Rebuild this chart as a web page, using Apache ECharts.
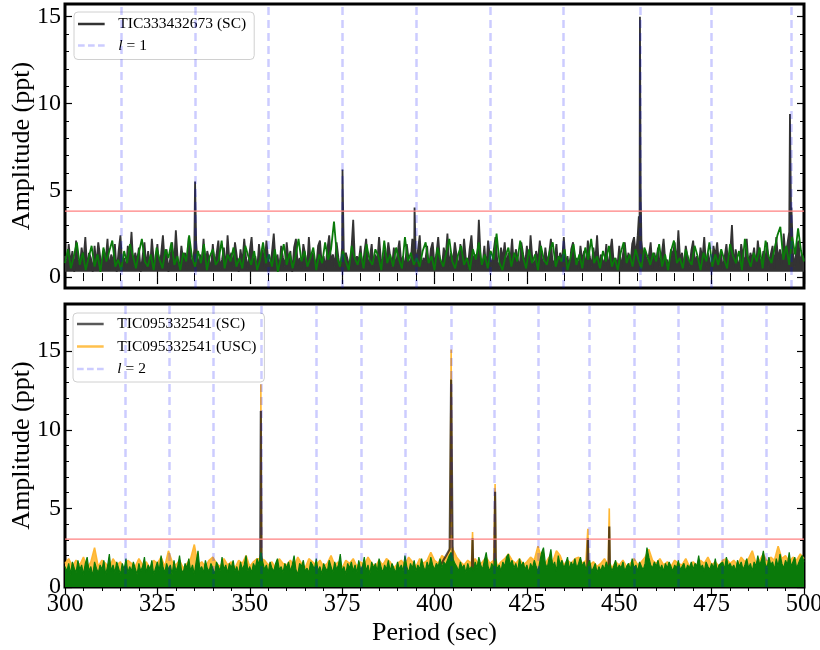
<!DOCTYPE html>
<html><head><meta charset="utf-8">
<script src="https://cdn.jsdelivr.net/npm/echarts@6/dist/echarts.min.js"></script>
<style>html,body{margin:0;padding:0;background:#fff}#c{width:820px;height:650px}</style>
</head><body><div id="c"></div>
<script>
// ---------- DATA ----------
const periodMin = 300, periodMax = 500;
const xTicks = [300, 325, 350, 375, 400, 425, 450, 475, 500];

// Top panel: TIC333432673 (SC), sampled every 0.5 s from 300 s
const topSCStep = 0.5;
const topSCNoise = [
1.2,0.4,1.9,0.8,1.5,0.3,2.1,1.0,0.6,1.7,0.9,2.3,0.5,1.4,1.1,0.3,1.8,0.7,2.0,1.2,
0.5,1.6,0.9,2.2,0.4,1.3,0.8,1.9,0.3,1.5,2.4,0.7,1.1,0.4,1.8,1.0,2.6,0.6,1.4,0.9,
1.7,0.3,1.2,2.0,0.6,1.5,0.4,2.2,1.0,0.7,1.9,0.5,1.3,2.4,0.8,1.6,0.3,1.1,2.0,0.6,
2.7,1.0,0.5,1.8,0.9,1.4,0.4,2.3,1.1,0.7,1.6,2.0,0.5,1.3,0.8,2.2,0.6,1.5,1.0,0.4,
1.9,0.7,1.3,2.1,0.5,1.0,1.7,0.4,2.4,0.9,1.4,0.6,2.0,1.2,0.3,1.6,0.8,2.2,1.1,0.5,
1.5,2.3,0.7,1.2,0.4,1.9,0.9,1.6,0.5,2.1,1.0,0.6,1.4,2.5,0.8,1.3,0.4,1.8,1.1,0.6,
2.0,0.9,1.5,0.3,1.7,2.2,0.7,1.1,0.5,1.9,1.3,0.4,2.3,0.8,1.4,1.0,0.6,1.8,2.1,0.7,
1.2,0.5,1.6,2.4,0.9,1.3,0.6,2.0,1.1,0.4,1.7,0.8,1.4,1.0,0.5,1.5,3.3,0.7,1.2,0.9,
1.8,0.4,1.4,2.2,0.6,1.1,1.9,0.5,1.3,0.8,2.3,1.0,0.4,1.6,0.9,2.0,1.2,0.6,1.7,0.5,
1.4,2.1,0.8,1.2,0.4,1.9,1.0,0.6,2.2,1.3,0.7,1.5,2.4,0.5,1.1,0.9,1.8,0.4,1.6,2.0,
0.7,1.3,2.3,0.9,0.5,1.7,1.1,2.5,0.6,1.4,0.8,2.0,1.2,0.4,1.9,0.7,2.2,1.0,0.5,1.6,
2.4,0.8,1.3,0.5,3.3,1.1,0.7,1.8,0.4,2.1,1.2,0.6,1.5,2.3,0.9,0.5,1.7,1.0,2.0,0.6,
1.4,0.9,2.2,0.5,1.6,1.1,0.4,2.0,1.3,0.7,1.8,0.5,2.4,1.0,0.6,1.5,0.9,2.1,1.2,0.4,
1.7,0.8,1.3,2.2,0.6,1.0,1.9,0.5,1.4,0.9,2.3,0.7,1.2,0.4,1.6,2.0,0.8,1.1,0.5,1.8,
0.9,1.5,0.4,2.1,1.2,0.6,1.7,0.9,2.4,0.5,1.3,1.0,0.7,1.9,0.4,1.4,2.2,0.8,1.1,0.6,
1.8,0.5,1.3,2.0,0.8,1.4,0.6,1.9,2.3,1.2,2.4,3.2,2.1,0.9,1.6,0.7,1.2,2.0,0.5,1.4,
0.9,1.7,0.6,1.3,2.2,0.8,1.0,0.5,1.6,1.2,2.0,0.7,2.7,0.9,1.4,0.5,1.8,1.1,0.6,1.5,
2.1,0.8,1.2,0.5,1.7,1.0,2.3,0.6,1.4,0.9,0.4,1.8,1.2,2.0,0.7,1.5,0.5,1.1,1.9,0.8,
1.3,3.0,0.6,1.6,1.0,0.5,1.9,1.2,0.8,2.2,0.6,1.4,1.0,1.7,0.5,2.1,1.1,0.7,1.5,0.9,
2.0,0.6,1.3,1.8,0.5,2.3,1.0,1.6,0.7,2.5,1.2,1.9,2.6,3.5,1.4,0.6,1.7,2.1,0.8,1.3,
1.0];
const topSCPeaks = [[335.2,5.5],[375.1,6.2],[394.6,4.0],[455.3,3.5],[455.6,15.0],[455.8,5.0],[496.2,9.4],[496.6,4.0]];

// Top panel: green comparison curve, sampled every 0.8 s
const topGreenStep = 0.8;
const topGreen = [
0.8,1.6,0.5,1.2,2.0,0.7,1.4,0.4,1.1,1.8,0.6,1.3,0.3,1.7,0.9,1.5,2.1,0.6,1.0,0.4,
1.5,0.8,1.9,1.2,0.5,1.4,2.2,0.9,0.6,1.3,0.4,1.7,1.0,0.5,1.6,1.1,2.0,0.7,1.2,0.4,
1.4,0.9,2.4,1.1,0.6,1.5,0.8,1.9,0.4,1.2,1.6,0.7,1.0,2.1,0.5,1.3,0.9,1.7,0.6,1.1,
0.5,1.8,1.2,0.7,1.5,0.4,1.0,2.0,0.8,1.3,0.6,1.6,0.3,1.1,1.9,0.7,1.4,0.5,1.2,2.2,
0.9,1.5,0.6,1.1,1.7,0.4,1.3,0.8,2.0,1.0,1.6,3.2,1.2,0.6,1.5,0.9,0.4,1.8,1.1,0.7,
1.4,0.5,1.9,1.0,0.7,1.6,1.2,0.4,2.1,0.8,1.3,0.6,1.7,1.0,0.5,2.3,0.9,1.4,0.7,1.1,
0.6,1.5,2.0,0.8,1.2,0.4,1.7,1.0,0.6,1.4,2.2,0.9,0.5,1.3,1.8,0.7,1.1,0.4,1.6,1.0,
2.0,0.7,1.3,0.5,1.5,1.0,2.5,0.8,0.4,1.2,1.7,0.6,1.4,0.9,2.1,1.1,0.5,1.6,0.8,1.3,
0.4,1.8,1.0,0.7,1.5,2.0,0.6,1.2,0.9,1.6,0.4,1.1,1.9,0.7,1.3,0.5,1.7,1.0,2.2,0.8,
1.2,0.5,1.5,0.9,1.8,0.6,1.1,0.4,1.4,2.0,0.8,1.3,0.6,1.6,1.0,0.5,1.7,1.2,0.7,1.4,
0.9,1.9,0.6,1.3,0.4,1.5,2.1,0.8,1.1,0.5,1.6,1.0,0.7,1.8,1.2,0.4,1.4,0.9,2.0,0.6,
1.3,0.7,1.6,1.0,0.5,1.9,1.2,0.8,1.5,0.4,2.2,1.1,0.6,1.4,0.9,1.7,0.5,2.1,1.2,0.8,
1.6,2.4,2.9,1.0,1.8,0.7,2.3,1.3,2.8,1.5,0.9];
const topThreshold = 3.8;
const l1Periods = [315.2, 335.2, 355.1, 375.1, 395.0, 415.0, 434.9, 455.6, 474.8, 496.5];
const topYTicks = [0, 5, 10, 15];
const topYMinor = [0,1,2,3,4,5,6,7,8,9,10,11,12,13,14,15];

// Bottom panel: green curve (upper envelope), every 0.5 s
const botGreenStep = 0.5;
const botGreen = [
1.3,1.0,1.5,0.8,1.6,1.2,0.9,1.7,1.1,1.4,0.8,1.5,1.9,1.0,1.3,0.7,1.6,1.2,0.9,1.4,
1.1,1.7,0.8,1.3,2.1,1.0,1.4,0.9,1.6,1.2,0.8,1.5,1.1,1.8,0.9,1.3,1.0,1.6,1.2,0.8,
1.5,1.0,1.3,1.9,0.9,1.4,1.1,1.7,0.8,1.2,1.6,1.0,2.0,1.3,0.9,1.5,1.1,1.4,0.8,1.7,
1.0,1.3,2.0,1.1,0.9,1.5,1.2,1.8,1.0,1.4,0.8,1.6,2.3,1.1,1.3,0.9,1.7,1.2,1.0,1.5,
1.2,0.8,1.6,1.3,1.0,1.9,1.1,1.4,0.9,1.5,1.2,1.7,1.0,1.3,0.8,1.6,1.1,1.4,2.0,1.0,
1.3,0.9,1.5,1.2,1.8,1.4,2.2,1.6,1.1,1.4,0.9,1.6,1.2,1.0,1.5,1.8,1.1,1.3,0.9,1.5,
1.2,1.6,1.0,1.4,2.0,1.1,0.8,1.5,1.3,1.7,1.0,1.2,0.9,1.6,1.4,1.1,1.8,1.0,1.3,0.8,
1.5,1.2,1.0,1.7,1.3,0.9,1.6,1.1,1.4,2.1,1.0,1.3,0.8,1.5,1.2,1.6,1.0,1.4,0.9,1.7,
1.1,1.3,1.9,1.0,1.4,0.8,1.6,1.2,1.5,1.0,1.8,1.3,0.9,1.4,1.1,1.7,1.0,1.5,1.2,0.9,
1.6,1.1,1.4,1.0,2.0,1.3,0.9,1.5,1.2,1.7,1.0,1.4,1.1,1.8,1.3,1.0,1.6,1.2,1.9,1.4,
1.1,1.5,1.3,1.8,1.2,1.6,1.4,1.7,2.0,2.2,1.8,1.5,1.3,1.0,1.6,1.2,1.4,0.9,1.5,1.1,
1.3,1.0,1.6,1.2,1.9,1.4,1.1,1.7,2.2,1.3,1.0,1.5,1.2,1.8,1.1,1.4,1.0,1.6,1.3,1.9,
2.1,1.4,1.7,1.2,1.5,1.0,1.8,1.3,1.6,1.1,1.4,0.9,1.5,1.2,1.7,1.3,1.0,1.6,2.2,2.5,
1.5,1.2,1.8,2.4,1.3,1.6,1.0,2.0,1.4,1.7,1.2,1.5,1.9,1.1,1.6,1.3,1.8,1.2,1.5,1.9,
1.3,1.6,1.1,1.4,1.7,1.0,1.2,1.5,0.9,1.3,1.0,1.4,1.1,1.6,1.2,1.5,1.0,1.3,1.7,1.1,
1.4,1.2,1.6,1.0,1.3,1.5,1.1,1.8,1.2,1.4,1.0,1.6,1.3,1.1,1.5,2.5,1.9,1.4,1.2,1.6,
1.3,1.7,1.1,1.4,1.0,1.5,1.2,1.6,1.3,1.0,1.4,1.2,1.7,1.1,1.3,1.5,1.0,1.4,1.2,1.6,
1.1,1.5,1.3,2.0,1.2,1.4,1.0,1.6,1.3,1.1,1.5,1.2,1.8,1.0,1.4,1.3,1.6,1.1,1.9,1.3,
1.5,1.2,1.4,1.0,1.7,1.3,1.6,1.1,1.4,1.8,1.2,1.5,1.0,1.6,1.3,2.0,1.4,1.7,2.3,1.5,
1.2,1.9,1.4,1.6,1.1,1.8,1.3,2.1,1.5,1.2,1.7,1.4,2.2,1.3,1.6,1.9,1.2,1.5,1.8,2.0,
1.6];

// Bottom panel: TIC095332541 (USC), every 1 s
const botUSCStep = 1.0;
const botUSCNoise = [
1.5,1.8,1.3,1.7,1.4,1.9,1.2,1.6,2.5,1.3,1.7,1.5,1.2,1.8,1.4,1.6,1.1,1.7,1.5,1.3,
1.8,1.4,1.6,1.2,1.7,1.5,1.9,1.3,2.3,1.6,1.4,1.7,1.2,1.5,1.8,2.7,1.4,1.6,1.3,1.7,
1.9,1.5,1.3,1.8,1.4,1.6,1.2,1.7,1.5,2.0,1.3,1.6,1.8,2.1,1.7,1.4,1.6,1.2,1.8,1.5,
1.4,1.7,1.3,1.9,1.5,1.2,1.8,1.6,1.4,1.7,1.3,1.5,2.0,1.4,1.6,1.2,1.7,1.5,1.8,1.3,
1.6,1.4,1.9,1.5,1.3,1.7,1.4,1.8,1.6,1.2,1.5,1.7,1.4,1.9,1.6,1.3,1.8,1.5,1.7,2.2,
1.7,1.5,2.0,1.8,2.3,2.4,1.9,1.6,1.4,1.7,1.5,1.8,1.4,1.6,1.9,1.5,1.7,1.3,1.6,1.8,
2.1,1.7,1.5,1.8,1.4,1.6,1.9,1.7,2.6,1.8,1.5,1.9,1.6,2.3,2.0,1.4,1.7,1.5,1.8,1.9,
1.5,1.7,1.4,1.6,1.3,1.5,1.8,1.4,1.2,1.6,1.4,1.7,1.3,1.5,1.8,1.4,1.6,1.9,2.4,1.7,
1.5,1.8,1.4,1.6,1.3,1.7,1.5,1.4,1.8,1.3,1.6,1.4,1.7,1.5,1.9,1.4,1.6,1.3,1.7,1.8,
1.5,1.7,1.4,1.9,1.6,1.8,2.3,1.5,1.7,2.1,1.6,1.9,1.7,2.6,1.8,2.0,1.6,1.9,1.7,2.1,
1.8];
const botUSCPeaks = [
[352.8,1.8],[353.0,12.9],[353.2,1.8],
[404.2,2.6],[404.5,15.1],[404.8,2.6],
[410.1,1.6],[410.3,3.5],[410.5,1.6],
[416.2,1.8],[416.4,6.55],[416.6,1.8],
[441.3,1.6],[441.5,3.7],[441.7,1.6],
[447.1,1.5],[447.3,5.0],[447.5,1.5]];

// Bottom panel: TIC095332541 (SC), every 5 s (mostly hidden below green)
const botSCStep = 5;
const botSCNoise = [
0.6,0.5,0.7,0.6,0.5,0.6,0.7,0.5,0.6,0.6,0.5,0.7,0.6,0.5,0.6,0.7,0.5,0.6,0.6,0.5,
0.7,0.6,0.5,0.6,0.7,0.5,0.6,0.6,0.5,0.7,0.6,0.5,0.6,0.7,0.5,0.6,0.6,0.5,0.7,0.6,
0.6];
const botSCPeaks = [
[352.8,1.0],[353.0,11.2],[353.2,1.0],
[404.1,2.4],[404.5,13.2],[404.9,2.4],
[410.1,0.8],[410.3,3.1],[410.5,0.8],
[416.2,1.2],[416.4,6.05],[416.6,1.2],
[441.3,0.8],[441.5,3.1],[441.7,0.8],
[447.1,0.8],[447.3,3.85],[447.5,0.8]];
const botThreshold = 3.05;
const l2Periods = [316.2, 328.2, 340.1, 353.0, 368.1, 380.1, 392.0, 404.5, 416.1, 428.1, 441.9, 454.0, 466.0, 478.0, 489.9];
const botYTicks = [0, 5, 10, 15];
const botYMinor = [0,1,2,3,4,5,6,7,8,9,10,11,12,13,14,15,16,17,18];

// ---------- BUILD ----------
function seq(start, step, vals) { return vals.map((v, i) => [+(start + i * step).toFixed(3), v]); }
function merge(noise, peaks) { return noise.concat(peaks).sort((a, b) => a[0] - b[0]); }

const FONT = 'Liberation Serif';
const dashColor = 'rgba(0,0,255,0.2)';
const dashStyle = { color: dashColor, width: 2.5, type: [8, 5] };
const ICON_SOLID = 'path://M0,0h32v3h-32z';
const ICON_DASH = 'path://M0,0h8v3h-8z M12,0h8v3h-8z M24,0h8v3h-8z';
const RED = '#ff8080';

function xAxis(grid, pos, labels) {
  return {
    type: 'value', gridIndex: grid, position: pos, min: periodMin, max: periodMax, interval: 25,
    axisLine: { show: false },
    axisTick: { show: true, inside: true, length: 7, lineStyle: { color: '#000', width: 1.2 } },
    minorTick: { show: true, splitNumber: 5, length: 4, lineStyle: { color: '#000', width: 1 } },
    axisLabel: { show: labels, color: '#000', fontFamily: FONT, fontSize: 24.5, margin: 5, customValues: xTicks },
    splitLine: { show: false }, minorSplitLine: { show: false },
    name: labels && pos === 'bottom' ? 'Period (sec)' : '',
    nameLocation: 'middle', nameGap: 33, nameMoveOverlap: false,
    nameTextStyle: { color: '#000', fontFamily: FONT, fontSize: 26 }
  };
}
function yAxis(grid, pos, min, max, ticks, major, labels, name) {
  return {
    type: 'value', gridIndex: grid, position: pos, min: min, max: max,
    axisLine: { show: false },
    axisTick: { show: true, inside: true, length: major ? 7 : 4, customValues: ticks,
      lineStyle: { color: '#000', width: major ? 1.2 : 1 } },
    axisLabel: { show: labels, customValues: ticks, color: '#000', fontFamily: FONT, fontSize: 24, margin: 4 },
    splitLine: { show: false },
    name: name || '', nameLocation: 'middle', nameGap: 30, nameRotate: 90, nameMoveOverlap: false,
    nameTextStyle: { color: '#000', fontFamily: FONT, fontSize: 26 }
  };
}

const topYMin = -0.63, topYMax = 15.73, botYMin = 0, botYMax = 18.0;

const legendText = { color: '#000', fontFamily: FONT, fontSize: 15.5, padding: [0, 0, 0, 6],
  rich: { it: { fontStyle: 'italic', fontFamily: FONT, fontSize: 15.5, color: '#000' } } };
const legendFmt = name => name.indexOf('l = ') === 0 ? '{it|l} = ' + name.slice(4) : name;
const legendBase = { orient: 'vertical', itemWidth: 32, itemHeight: 2.5, selectedMode: false,
  backgroundColor: 'rgba(255,255,255,0.9)', borderColor: '#d0d0d0', borderWidth: 1, borderRadius: 4,
  textStyle: legendText, formatter: legendFmt };

const option = {
  animation: false,
  backgroundColor: '#fff',
  grid: [
    { left: 65, top: 4, width: 739, height: 284, show: true, borderColor: '#000', borderWidth: 3,
      backgroundColor: 'transparent', containLabel: false, outerBoundsMode: 'none' },
    { left: 65, top: 304, width: 739, height: 283, show: true, borderColor: '#000', borderWidth: 3,
      backgroundColor: 'transparent', containLabel: false, outerBoundsMode: 'none' }
  ],
  xAxis: [xAxis(0, 'bottom', false), xAxis(0, 'top', false), xAxis(1, 'bottom', true), xAxis(1, 'top', false)],
  yAxis: [
    yAxis(0, 'left', topYMin, topYMax, topYTicks, true, true, 'Amplitude (ppt)'),
    yAxis(0, 'left', topYMin, topYMax, topYMinor, false, false),
    yAxis(0, 'right', topYMin, topYMax, topYTicks, true, false),
    yAxis(0, 'right', topYMin, topYMax, topYMinor, false, false),
    yAxis(1, 'left', botYMin, botYMax, botYTicks, true, true, 'Amplitude (ppt)'),
    yAxis(1, 'left', botYMin, botYMax, botYMinor, false, false),
    yAxis(1, 'right', botYMin, botYMax, botYTicks, true, false),
    yAxis(1, 'right', botYMin, botYMax, botYMinor, false, false)
  ],
  legend: [
    Object.assign({}, legendBase, {
      data: [{ name: 'TIC333432673 (SC)', icon: ICON_SOLID }, { name: 'l = 1', icon: ICON_DASH }],
      left: 74, top: 12, itemGap: 5.5, padding: [4, 8, 6, 4] }),
    Object.assign({}, legendBase, {
      data: [{ name: 'TIC095332541 (SC)', icon: ICON_SOLID }, { name: 'TIC095332541 (USC)', icon: ICON_SOLID },
             { name: 'l = 2', icon: ICON_DASH }],
      left: 73, top: 313, itemGap: 6.5, padding: [3, 8, 5, 4] })
  ],
  series: [
    { name: 'l = 1', type: 'line', xAxisIndex: 0, yAxisIndex: 0, data: [], symbol: 'none', z: 1,
      lineStyle: dashStyle, itemStyle: { color: dashColor },
      markLine: { silent: true, symbol: ['none', 'none'], label: { show: false }, lineStyle: dashStyle,
        data: l1Periods.map(p => ({ xAxis: p })) } },
    { name: 'TIC333432673 (SC)', type: 'line', xAxisIndex: 0, yAxisIndex: 0, symbol: 'none', z: 3,
      data: merge(seq(periodMin, topSCStep, topSCNoise), topSCPeaks),
      lineStyle: { color: '#333333', width: 1.8 }, itemStyle: { color: '#333333' },
      areaStyle: { color: '#333333', opacity: 1, origin: 0.3 } },
    { name: 'topGreen', type: 'line', xAxisIndex: 0, yAxisIndex: 0, symbol: 'none', z: 4,
      data: seq(periodMin, topGreenStep, topGreen),
      lineStyle: { color: '#0a7a0a', width: 1.8 }, itemStyle: { color: '#0a7a0a' } },
    { name: 'topThreshold', type: 'line', xAxisIndex: 0, yAxisIndex: 0, symbol: 'none', z: 5,
      data: [[periodMin, topThreshold], [periodMax, topThreshold]],
      lineStyle: { color: RED, width: 1.2 }, itemStyle: { color: RED } },

    { name: 'l = 2', type: 'line', xAxisIndex: 2, yAxisIndex: 4, data: [], symbol: 'none', z: 1,
      lineStyle: dashStyle, itemStyle: { color: dashColor },
      markLine: { silent: true, symbol: ['none', 'none'], label: { show: false }, lineStyle: dashStyle,
        data: l2Periods.map(p => ({ xAxis: p })) } },
    { name: 'TIC095332541 (USC)', type: 'line', xAxisIndex: 2, yAxisIndex: 4, symbol: 'none', z: 2,
      data: merge(seq(periodMin, botUSCStep, botUSCNoise), botUSCPeaks),
      lineStyle: { color: '#ffb732', width: 1.6 }, itemStyle: { color: '#ffc04d' },
      areaStyle: { color: '#ffbe45', opacity: 1 } },
    { name: 'TIC095332541 (SC)', type: 'line', xAxisIndex: 2, yAxisIndex: 4, symbol: 'none', z: 3,
      data: merge(seq(periodMin, botSCStep, botSCNoise), botSCPeaks),
      lineStyle: { color: 'rgba(0,0,0,0.65)', width: 2.2 }, itemStyle: { color: '#595959' } },
    { name: 'botGreen', type: 'line', xAxisIndex: 2, yAxisIndex: 4, symbol: 'none', z: 4,
      data: seq(periodMin, botGreenStep, botGreen),
      lineStyle: { color: '#0a7a0a', width: 1.2 }, areaStyle: { color: '#0a7a0a', opacity: 1 } },
    { name: 'botThreshold', type: 'line', xAxisIndex: 2, yAxisIndex: 4, symbol: 'none', z: 5,
      data: [[periodMin, botThreshold], [periodMax, botThreshold]],
      lineStyle: { color: RED, width: 1.2 }, itemStyle: { color: RED } }
  ]
};
const chart = echarts.init(document.getElementById('c'), null, { renderer: 'canvas' });
chart.setOption(option);
</script>
</body></html>
